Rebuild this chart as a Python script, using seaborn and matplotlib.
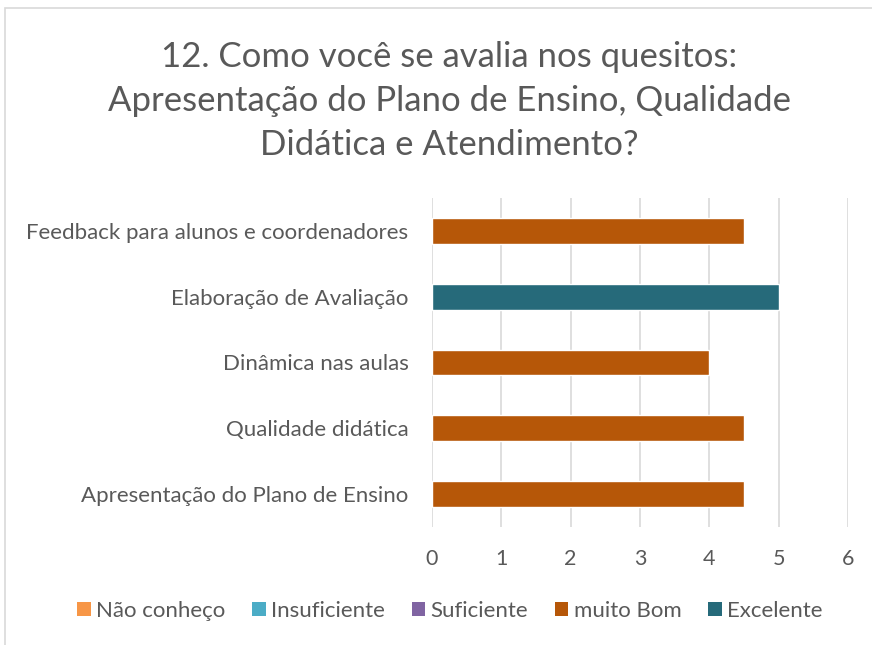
import matplotlib
matplotlib.use("Agg")
import matplotlib.pyplot as plt
from matplotlib.patches import Patch, Rectangle
import seaborn as sns
import pandas as pd

# dados
categorias = [
    "Feedback para alunos e coordenadores",
    "Elaboração de Avaliação",
    "Dinâmica nas aulas",
    "Qualidade didática",
    "Apresentação do Plano de Ensino",
]
valores = [4.5, 5, 4, 4.5, 4.5]
avaliacao = ["muito Bom", "Excelente", "muito Bom", "muito Bom", "muito Bom"]

niveis = ["Não conheço", "Insuficiente", "Suficiente", "muito Bom", "Excelente"]
cores = ["#F79646", "#4BACC6", "#8064A2", "#B65708", "#266A7A"]
paleta = dict(zip(niveis, cores))

titulo = "12. Como você se avalia nos quesitos:\nApresentação do Plano de Ensino, Qualidade\nDidática e Atendimento?"

sns.set_style("white")
plt.rcParams["font.family"] = ["Lato", "DejaVu Sans"]
TXT = "#595959"

df = pd.DataFrame({"Quesito": categorias, "Valor": valores, "Avaliação": avaliacao})

fig = plt.figure(figsize=(8.72, 6.45), dpi=100)
ax = fig.add_axes([432 / 872, 1 - 527 / 645, (848 - 432) / 872, (527 - 198) / 645])

sns.barplot(data=df, x="Valor", y="Quesito", hue="Avaliação", hue_order=niveis,
            palette=paleta, dodge=False, width=0.39, orient="h", saturation=1,
            ax=ax, legend=False)

ax.set_xlim(0, 6)
ax.set_xticks(range(0, 7))
ax.grid(axis="x", color="#D9D9D9", linewidth=1.2)
ax.set_axisbelow(True)
for s in ax.spines.values():
    s.set_visible(False)
ax.set_xlabel("")
ax.set_ylabel("")
ax.tick_params(axis="both", length=0, labelcolor=TXT)
ax.tick_params(axis="x", pad=16, labelsize=15.5)
ax.tick_params(axis="y", pad=17, labelsize=16)

fig.text(449 / 872, 1 - 101 / 645, titulo, ha="center", va="center", fontsize=25,
         color=TXT, linespacing=1.45)

handles = [Patch(facecolor=paleta[n], edgecolor="none") for n in niveis]
fig.legend(handles, niveis, loc="center", bbox_to_anchor=(450 / 872, 1 - 611 / 645),
           ncol=5, frameon=False, fontsize=16, labelcolor=TXT,
           handlelength=0.6, handleheight=0.6, handletextpad=0.25, columnspacing=1.2)

# borda do gráfico
fig.patches.append(Rectangle((5 / 872, -0.05), 1.1, 1 - 8 / 645 + 0.05, transform=fig.transFigure,
                             fill=False, edgecolor="#D9D9D9", linewidth=1.2))

fig.savefig("out.png", dpi=100)
